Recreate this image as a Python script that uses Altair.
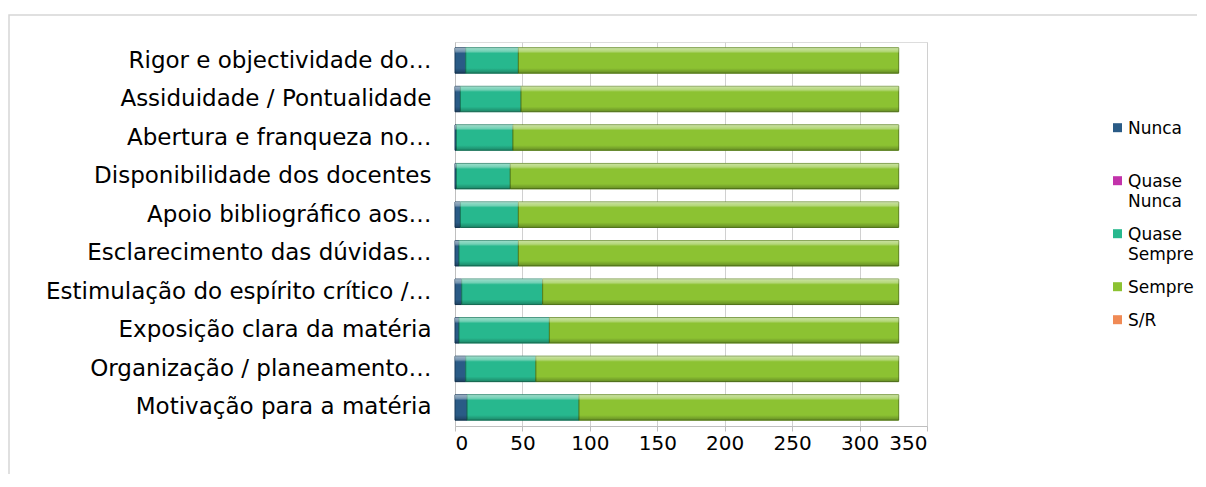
import altair as alt
import pandas as pd

categories = [
    "Rigor e objectividade do…",
    "Assiduidade / Pontualidade",
    "Abertura e franqueza no…",
    "Disponibilidade dos docentes",
    "Apoio bibliográfico aos…",
    "Esclarecimento das dúvidas…",
    "Estimulação do espírito crítico /…",
    "Exposição clara da matéria",
    "Organização / planeamento…",
    "Motivação para a matéria",
]
series = ["Nunca", "Quase Nunca", "Quase Sempre", "Sempre", "S/R"]
nunca = [8, 4, 1, 1, 4, 3, 5, 3, 8, 9]
quase_nunca = [0, 0, 0, 0, 0, 0, 0, 0, 0, 0]
quase_sempre = [39, 45, 42, 40, 43, 44, 60, 67, 52, 83]
sempre = [282, 280, 286, 288, 282, 282, 264, 259, 269, 237]
sr = [0, 0, 0, 0, 0, 0, 0, 0, 0, 0]
x_ticks = [0, 50, 100, 150, 200, 250, 300, 350]
colors = ["#2A5B86", "#C232AA", "#27B88E", "#8CC232", "#F08A55"]
strokes = ["#173A5A", "#7A1B6A", "#17795C", "#5A8219", "#A8532C"]

rows = []
for s_i, (name, vals) in enumerate(zip(series, [nunca, quase_nunca, quase_sempre, sempre, sr])):
    for c, v in zip(categories, vals):
        rows.append({"cat": c, "series": name, "value": v, "ord": s_i})
df = pd.DataFrame(rows)

FONT = "DejaVu Sans"

y_enc = alt.Y("cat:N", sort=categories, title=None,
              scale=alt.Scale(paddingInner=0.34, paddingOuter=0.15),
              axis=alt.Axis(labelFontSize=23, labelColor="#000000", labelFont=FONT,
                            labelLimit=440, ticks=False, domainColor="#BFBFBF",
                            labelPadding=24))
x_enc = alt.X("value:Q", stack="zero", title=None,
              scale=alt.Scale(domain=[0, 350], nice=False),
              axis=alt.Axis(values=x_ticks,
                            labelFontSize=20, labelColor="#000000", labelFont=FONT,
                            gridColor="#D0D0D0", domainColor="#BFBFBF",
                            tickColor="#BFBFBF", tickSize=5, labelPadding=2))

base = alt.Chart(df).transform_filter(alt.datum.value > 0)

bars = base.mark_bar(strokeWidth=1).encode(
    y=y_enc,
    x=x_enc,
    color=alt.Color("series:N", sort=series,
                    scale=alt.Scale(domain=series, range=colors),
                    legend=alt.Legend(
                        title=None, orient="none", legendX=654, legendY=70,
                        symbolType="M-1,0.6L1,0.6L1,2.6L-1,2.6Z",
                        symbolSize=81, symbolStrokeWidth=0,
                        labelFontSize=17, labelFont=FONT, labelColor="#000000",
                        labelOffset=2, rowPadding=8, labelBaseline="top",
                        labelLimit=300,
                        labelExpr="datum.label == 'Quase Nunca' ? ['Quase', 'Nunca'] : datum.label == 'Quase Sempre' ? ['Quase', 'Sempre'] : datum.label == 'Nunca' ? ['Nunca', ' '] : datum.label")),
    stroke=alt.Stroke("series:N", scale=alt.Scale(domain=series, range=strokes), legend=None),
    order=alt.Order("ord:Q"),
)

shine = alt.Gradient(
    gradient="linear", x1=0, y1=0, x2=0, y2=1,
    stops=[
        alt.GradientStop(color="rgba(255,255,255,0.55)", offset=0),
        alt.GradientStop(color="rgba(255,255,255,0.35)", offset=0.14),
        alt.GradientStop(color="rgba(255,255,255,0)", offset=0.22),
        alt.GradientStop(color="rgba(0,0,0,0)", offset=0.8),
        alt.GradientStop(color="rgba(0,0,0,0.28)", offset=1),
    ],
)
overlay = base.mark_bar(fill=shine, strokeWidth=0).encode(
    y=y_enc, x=x_enc, order=alt.Order("ord:Q"),
)

frame = alt.Chart(pd.DataFrame({"k": [0]})).mark_rect(
    fillOpacity=0, stroke="#D6D6D6", strokeWidth=1.5
).encode(x=alt.value(-446), x2=alt.value(800), y=alt.value(-27), y2=alt.value(520))

chart = alt.layer(frame, bars, overlay).properties(
    width=472, height=384,
    padding={"left": 447, "top": 34, "right": 270, "bottom": 48},
    autosize=alt.AutoSizeParams(type="none"),
).configure_view(strokeWidth=0).configure(
    background="white", style={"guide-label": {"lineHeight": 20}}
)

chart.save("out.html", embed_options={"renderer": "svg", "actions": False})
